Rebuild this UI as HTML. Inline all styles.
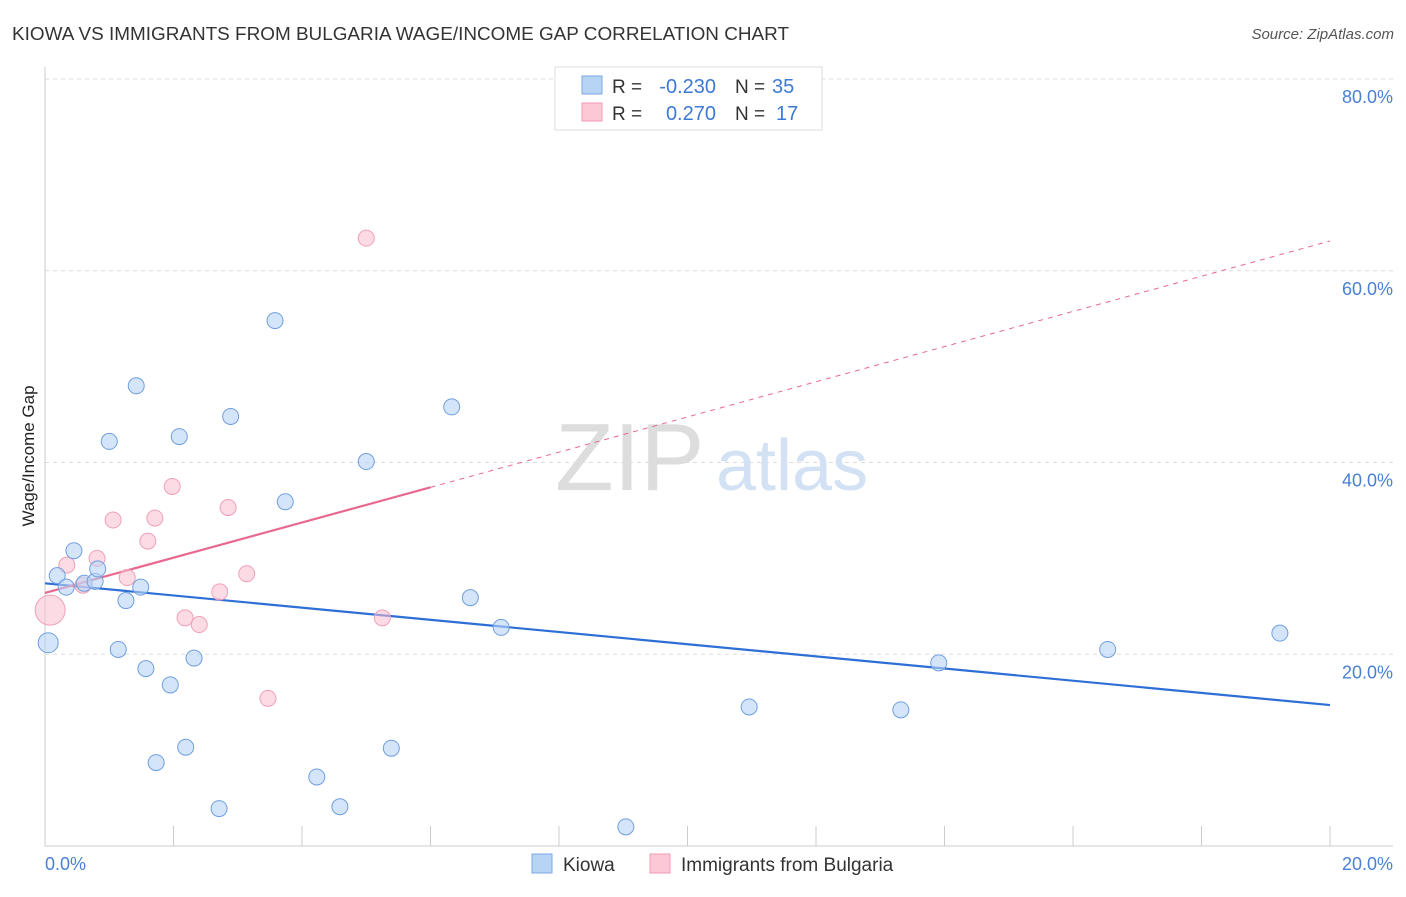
<!DOCTYPE html>
<html><head><meta charset="utf-8"><style>
body{margin:0;background:#fff;font-family:"Liberation Sans",sans-serif;}
svg text{font-family:"Liberation Sans",sans-serif;}
</style></head><body>
<svg width="1406" height="892" xmlns="http://www.w3.org/2000/svg">
<text x="12" y="40" font-size="18" fill="#333" textLength="777" lengthAdjust="spacingAndGlyphs">KIOWA VS IMMIGRANTS FROM BULGARIA WAGE/INCOME GAP CORRELATION CHART</text>
<text x="1394" y="39" font-size="15" fill="#555" font-style="italic" text-anchor="end">Source: ZipAtlas.com</text>
<g id="grid"></g>
<g><text x="555" y="490" font-size="96" fill="#ddd" font-family="Liberation Serif">ZIP</text><text x="716" y="490" font-size="72" fill="#d2e2f4">atlas</text></g>
<line x1="45" y1="67" x2="45" y2="846" stroke="#ccc"/>
<line x1="45" y1="846" x2="1393" y2="846" stroke="#ccc"/>
<g id="xticks"></g>
<text x="45" y="870" font-size="18" fill="#4a7fd4">0.0%</text>
<text x="1393" y="870" font-size="18" fill="#4a7fd4" text-anchor="end">20.0%</text>
<text transform="translate(34,456) rotate(-90)" font-size="17" fill="#222" text-anchor="middle">Wage/Income Gap</text>
<g id="lines"></g>
<g id="pts"></g>
<g>
<rect x="555" y="67" width="267" height="63" fill="#fff" stroke="#ddd"/>
<rect x="582" y="76" width="20" height="18" fill="#b8d4f5" stroke="#7aa8e6"/>
<rect x="582" y="103" width="20" height="18" fill="#fcc8d6" stroke="#f09ab2"/>
<text x="612" y="93" font-size="19" fill="#333">R =</text>
<text x="716" y="93" font-size="20" fill="#3d7ad6" text-anchor="end">-0.230</text>
<text x="735" y="93" font-size="19" fill="#333">N =</text>
<text x="772" y="93" font-size="20" fill="#3d7ad6">35</text>
<text x="612" y="120" font-size="19" fill="#333">R =</text>
<text x="716" y="120" font-size="20" fill="#3d7ad6" text-anchor="end">0.270</text>
<text x="735" y="120" font-size="19" fill="#333">N =</text>
<text x="776" y="120" font-size="20" fill="#3d7ad6">17</text>
</g>
<g>
<rect x="532" y="854" width="20" height="19" fill="#b8d4f5" stroke="#7aa8e6"/>
<text x="563" y="871" font-size="19" fill="#333">Kiowa</text>
<rect x="650" y="854" width="20" height="19" fill="#fcc8d6" stroke="#f09ab2"/>
<text x="681" y="871" font-size="19" fill="#333">Immigrants from Bulgaria</text>
</g>
</svg>
<script>
const yTicks=[20,40,60,80];
const yTickLabels=["20.0%","40.0%","60.0%","80.0%"];
const kiowaX=[0.05,0.19,0.33,0.45,0.61,0.78,0.82,1.0,1.14,1.26,1.42,1.49,1.57,1.73,1.95,2.09,2.19,2.32,2.71,2.89,3.58,3.74,4.23,4.59,5.0,5.39,6.33,6.62,7.1,9.04,10.96,13.32,13.91,16.54,19.22];
const kiowaY=[21.2,28.2,27.0,30.8,27.4,27.6,28.9,42.2,20.5,25.6,48.0,27.0,18.5,8.7,16.8,42.7,10.3,19.6,3.9,44.8,54.8,35.9,7.2,4.1,40.1,10.2,45.8,25.9,22.8,2.0,14.5,14.2,19.1,20.5,22.2];
const bulgX=[0.08,0.34,0.59,0.81,1.06,1.28,1.6,1.71,1.98,2.18,2.4,2.72,2.85,3.14,3.47,5.0,5.25];
const bulgY=[24.6,29.3,27.2,30.0,34.0,28.0,31.8,34.2,37.5,23.8,23.1,26.5,35.3,28.4,15.4,63.4,23.8];
const kiowaTrend=[27.4,14.7];
const bulgTrend=[26.4,63.1];
const bulgSolidEnd=6;
const NS="http://www.w3.org/2000/svg";
const X=v=>45+v*64.25, Y=v=>846-v*9.5875;
function mk(t,a,p){const e=document.createElementNS(NS,t);for(const k in a)e.setAttribute(k,a[k]);p.appendChild(e);return e;}
const grid=document.getElementById('grid');
yTicks.forEach((t,i)=>{
const l=mk('line',{x1:45,x2:1393,y1:Y(t),y2:Y(t),stroke:'#ddd','stroke-dasharray':'4,4'},grid);


const tx=mk('text',{x:1393,y:Y(t)+24,'font-size':18,fill:'#4a7fd4','text-anchor':'end'},grid);
tx.textContent=yTickLabels[i];


});
const xt=document.getElementById('xticks');
for(let i=0;i<=10;i++){const l=mk('line',{x1:X(i*2),x2:X(i*2),y1:826,y2:846,stroke:'#ccc'},xt);

}
const ln=document.getElementById('lines');
let l1=mk('line',{x1:X(0),y1:Y(kiowaTrend[0]),x2:X(20),y2:Y(kiowaTrend[1]),stroke:'#2e6fd6','stroke-width':2.2},ln);


const bAt=x=>bulgTrend[0]+(bulgTrend[1]-bulgTrend[0])*x/20;
let l2=mk('line',{x1:X(0),y1:Y(bAt(0)),x2:X(bulgSolidEnd),y2:Y(bAt(bulgSolidEnd)),stroke:'#e8698f','stroke-width':2.2},ln);


let l3=mk('line',{x1:X(bulgSolidEnd),y1:Y(bAt(bulgSolidEnd)),x2:X(20),y2:Y(bAt(20)),stroke:'#e8698f','stroke-width':1,'stroke-dasharray':'5,5'},ln);


const pts=document.getElementById('pts');
bulgX.forEach((x,i)=>{const c=mk('circle',{cx:X(x),cy:Y(bulgY[i]),r:i==0?15:8,fill:'rgba(250,190,208,0.55)',stroke:'#f0a0b8','stroke-width':1},pts);

});
kiowaX.forEach((x,i)=>{const c=mk('circle',{cx:X(x),cy:Y(kiowaY[i]),r:i==0?10:8,fill:'rgba(184,212,245,0.6)',stroke:'#6f9fe0','stroke-width':1},pts);

});
</script>
</body></html>
